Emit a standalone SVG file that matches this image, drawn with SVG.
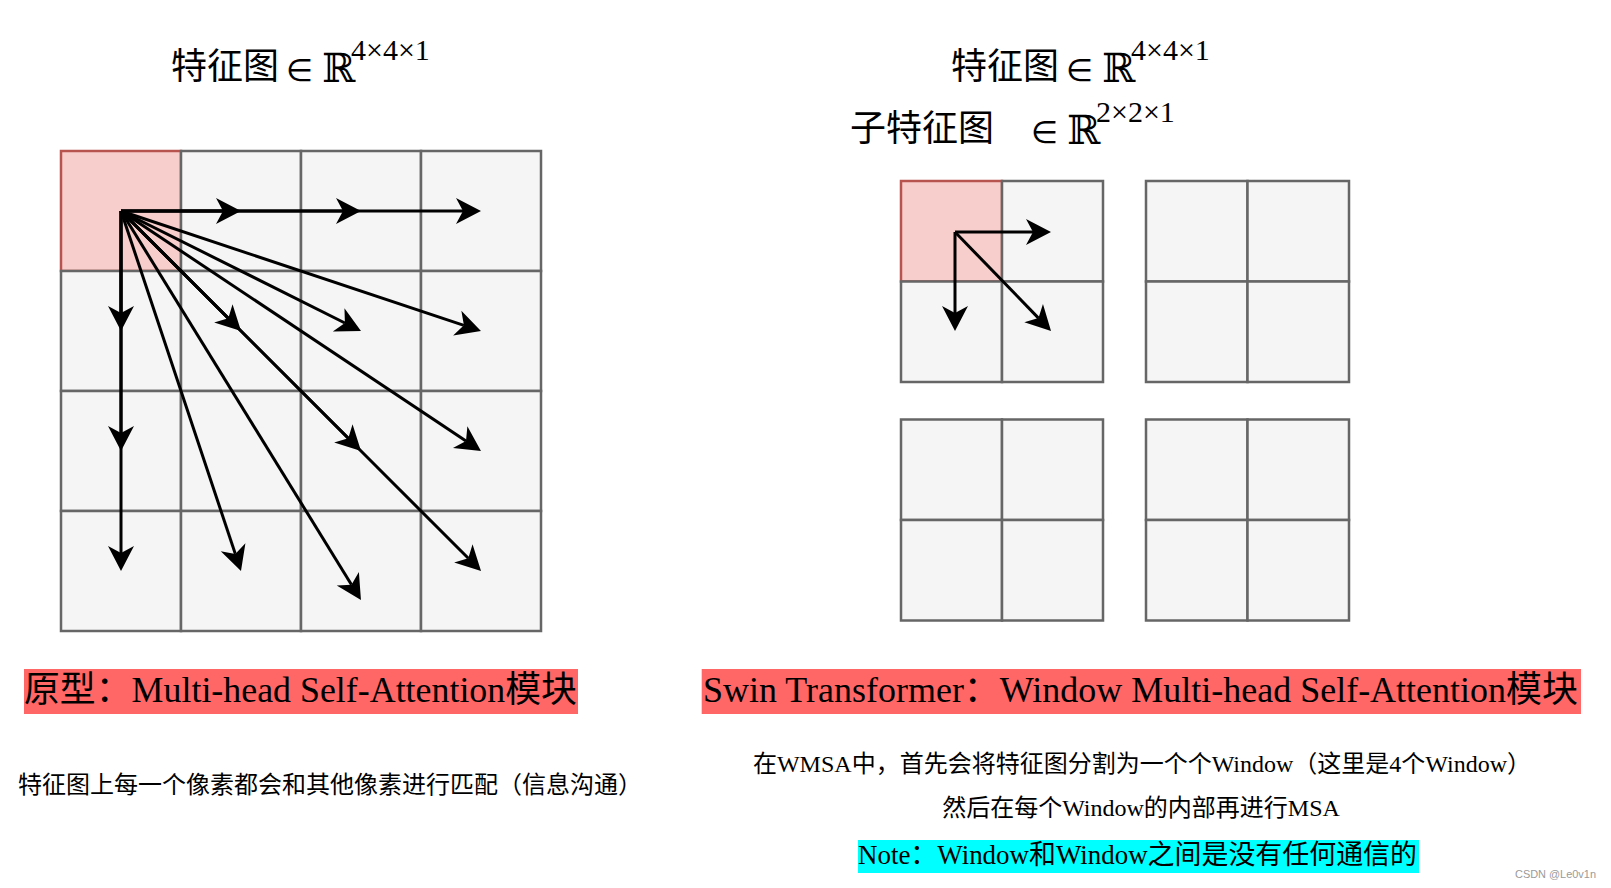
<svg xmlns="http://www.w3.org/2000/svg" width="1611" height="888" viewBox="0 0 1611 888">
<style>
.cell{fill:#f5f5f5;stroke:#666666;stroke-width:2.5}
.hl{fill:#f8cecc;stroke:#b85450;stroke-width:2.5}
.arr{stroke:#000;stroke-width:3;fill:none;marker-end:url(#ah)}
.cjk{font-family:"Noto Sans CJK SC",sans-serif;fill:#000}
.mix{font-family:"Liberation Serif","Noto Sans CJK SC",serif;fill:#000}
.math{font-family:"DejaVu Serif",serif;fill:#000}
.elem{font-family:"DejaVu Sans",sans-serif;font-weight:200;font-size:31px}
.bb{font-family:"DejaVu Serif",serif;font-size:40px}
.sup{font-family:"Liberation Serif",serif;font-size:30px}
</style>
<defs>
<marker id="ah" markerUnits="userSpaceOnUse" viewBox="-8 -14 28 28" refX="0" refY="0" markerWidth="28" markerHeight="28" orient="auto">
<path d="M18,0 L-7,-13 L0,0 L-7,13 Z" fill="#000"/>
</marker>
</defs>
<rect width="1611" height="888" fill="#ffffff"/>

<g id="title-left">
<text class="cjk" x="171" y="79" font-size="36">特征图</text>
<text class="math"><tspan class="elem" x="286" y="81">∈</tspan><tspan class="bb" x="322" y="82">ℝ</tspan><tspan class="sup" x="351" y="60">4×4×1</tspan></text>
</g>

<g id="title-right">
<text class="cjk" x="951" y="79" font-size="36">特征图</text>
<text class="math"><tspan class="elem" x="1066" y="81">∈</tspan><tspan class="bb" x="1102" y="82">ℝ</tspan><tspan class="sup" x="1131" y="60">4×4×1</tspan></text>
</g>

<g id="subtitle-right">
<text class="cjk" x="850" y="141" font-size="36">子特征图</text>
<text class="math"><tspan class="elem" x="1031" y="143">∈</tspan><tspan class="bb" x="1067" y="144">ℝ</tspan><tspan class="sup" x="1096" y="122">2×2×1</tspan></text>
</g>

<g id="feature-map">
<rect class="hl" x="61" y="151" width="120" height="120"/>
<rect class="cell" x="181" y="151" width="120" height="120"/>
<rect class="cell" x="301" y="151" width="120" height="120"/>
<rect class="cell" x="421" y="151" width="120" height="120"/>
<rect class="cell" x="61" y="271" width="120" height="120"/>
<rect class="cell" x="181" y="271" width="120" height="120"/>
<rect class="cell" x="301" y="271" width="120" height="120"/>
<rect class="cell" x="421" y="271" width="120" height="120"/>
<rect class="cell" x="61" y="391" width="120" height="120"/>
<rect class="cell" x="181" y="391" width="120" height="120"/>
<rect class="cell" x="301" y="391" width="120" height="120"/>
<rect class="cell" x="421" y="391" width="120" height="120"/>
<rect class="cell" x="61" y="511" width="120" height="120"/>
<rect class="cell" x="181" y="511" width="120" height="120"/>
<rect class="cell" x="301" y="511" width="120" height="120"/>
<rect class="cell" x="421" y="511" width="120" height="120"/>
</g>

<g id="window-1">
<rect class="hl" x="901" y="181" width="101" height="100.5"/>
<rect class="cell" x="1002" y="181" width="101" height="100.5"/>
<rect class="cell" x="901" y="281.5" width="101" height="100.5"/>
<rect class="cell" x="1002" y="281.5" width="101" height="100.5"/>
</g>
<g id="window-2">
<rect class="cell" x="1146" y="181" width="101.5" height="100.5"/>
<rect class="cell" x="1247.5" y="181" width="101.5" height="100.5"/>
<rect class="cell" x="1146" y="281.5" width="101.5" height="100.5"/>
<rect class="cell" x="1247.5" y="281.5" width="101.5" height="100.5"/>
</g>
<g id="window-3">
<rect class="cell" x="901" y="419.5" width="101" height="100.5"/>
<rect class="cell" x="1002" y="419.5" width="101" height="100.5"/>
<rect class="cell" x="901" y="520" width="101" height="100.5"/>
<rect class="cell" x="1002" y="520" width="101" height="100.5"/>
</g>
<g id="window-4">
<rect class="cell" x="1146" y="419.5" width="101.5" height="100.5"/>
<rect class="cell" x="1247.5" y="419.5" width="101.5" height="100.5"/>
<rect class="cell" x="1146" y="520" width="101.5" height="100.5"/>
<rect class="cell" x="1247.5" y="520" width="101.5" height="100.5"/>
</g>

<g id="connectors">
<line class="arr" x1="121" y1="211" x2="223" y2="211"/>
<line class="arr" x1="121" y1="211" x2="343" y2="211"/>
<line class="arr" x1="121" y1="211" x2="463" y2="211"/>
<line class="arr" x1="121" y1="211" x2="121" y2="313"/>
<line class="arr" x1="121" y1="211" x2="121" y2="433"/>
<line class="arr" x1="121" y1="211" x2="121" y2="553"/>
<line class="arr" x1="121" y1="211" x2="228.3" y2="318.3"/>
<line class="arr" x1="121" y1="211" x2="344.9" y2="323"/>
<line class="arr" x1="121" y1="211" x2="463.9" y2="325.3"/>
<line class="arr" x1="121" y1="211" x2="348.3" y2="438.3"/>
<line class="arr" x1="121" y1="211" x2="466" y2="441"/>
<line class="arr" x1="121" y1="211" x2="235.3" y2="553.9"/>
<line class="arr" x1="121" y1="211" x2="351.5" y2="584.7"/>
<line class="arr" x1="121" y1="211" x2="468.3" y2="558.3"/>
<line class="arr" x1="955" y1="232" x2="1033" y2="232"/>
<line class="arr" x1="955" y1="232" x2="955" y2="313"/>
<line class="arr" x1="955" y1="232" x2="1038.5" y2="318.1"/>
</g>

<g id="label-left">
<rect x="24" y="669" width="554" height="45" fill="#ff6666"/>
<text class="mix" x="24" y="702" font-size="36" textLength="553" lengthAdjust="spacingAndGlyphs">原型：Multi-head Self-Attention模块</text>
</g>

<g id="desc-left">
<text class="cjk" x="18" y="793" font-size="24" fill="#111">特征图上每一个像素都会和其他像素进行匹配（信息沟通）</text>
</g>

<g id="label-right">
<rect x="701.7" y="669" width="879.3" height="45" fill="#ff6666"/>
<text class="mix" x="703" y="702" font-size="36" textLength="875" lengthAdjust="spacingAndGlyphs">Swin Transformer：Window Multi-head Self-Attention模块</text>
</g>

<g id="desc-right">
<text class="mix" x="1142" y="772" font-size="24" text-anchor="middle">在WMSA中，首先会将特征图分割为一个个Window（这里是4个Window）</text>
<text class="mix" x="1141" y="816" font-size="24" text-anchor="middle">然后在每个Window的内部再进行MSA</text>
</g>

<g id="note">
<rect x="858" y="840" width="561" height="33" fill="#00ffff"/>
<text class="mix" x="858" y="864" font-size="27" textLength="559" lengthAdjust="spacingAndGlyphs">Note：Window和Window之间是没有任何通信的</text>
</g>

<g id="watermark">
<text x="1515" y="878" font-family="Liberation Sans, sans-serif" font-size="11" fill="#9a9a9a" textLength="81" lengthAdjust="spacingAndGlyphs">CSDN @Le0v1n</text>
</g>
</svg>
